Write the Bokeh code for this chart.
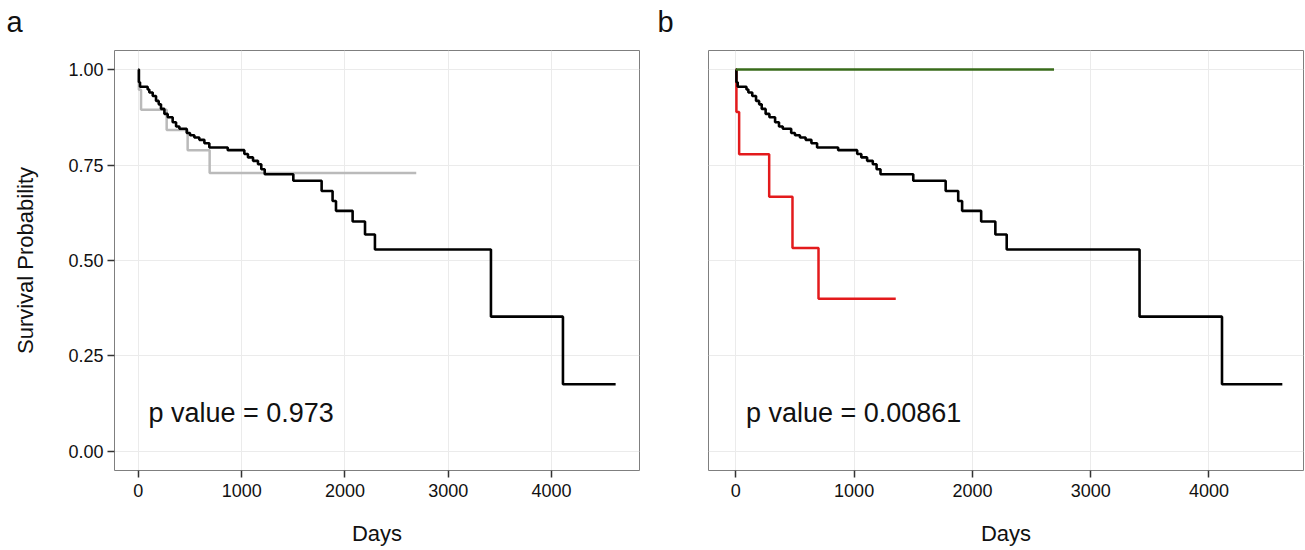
from bokeh.plotting import figure
from bokeh.layouts import row, column
from bokeh.models import Label, FixedTicker, NumeralTickFormatter, Range1d
from bokeh.core.properties import value
from bokeh.embed import file_html
from bokeh.resources import INLINE

# ---- data (days, survival probability) ----
all_days = [0, 5, 16, 90, 106, 139, 171, 197, 219, 252, 284, 332, 365, 397, 468, 500,
            542, 590, 639, 687, 865, 1026, 1061, 1110, 1158, 1190, 1223, 1500, 1774,
            1880, 1913, 2074, 2194, 2290, 3413, 4110, 4620]
all_surv = [1.0, 0.967, 0.955, 0.948, 0.940, 0.931, 0.918, 0.909, 0.897, 0.884, 0.875,
            0.862, 0.851, 0.845, 0.834, 0.828, 0.822, 0.816, 0.807, 0.796, 0.789, 0.779,
            0.770, 0.761, 0.752, 0.739, 0.726, 0.709, 0.682, 0.656, 0.630, 0.602, 0.568,
            0.529, 0.353, 0.176, 0.176]

grey_days = [0, 5, 26, 274, 477, 690, 2690]
grey_surv = [1.0, 0.947, 0.895, 0.842, 0.789, 0.729, 0.729]

red_days = [0, 5, 28, 282, 479, 699, 1352]
red_surv = [1.0, 0.889, 0.778, 0.667, 0.533, 0.400, 0.400]

green_days = [0, 2690]
green_surv = [1.0, 1.0]

x_ticks = [0, 1000, 2000, 3000, 4000]
y_ticks = [0.0, 0.25, 0.5, 0.75, 1.0]

panel_tags = ["a", "b"]
p_text_a = "p value = 0.973"
p_text_b = "p value = 0.00861"

FONT = "Liberation Sans"

# ---- strip carrying the panel tags ----
strip = figure(width=1305, height=49, output_backend="svg", toolbar_location=None,
               x_range=Range1d(0, 1305), y_range=Range1d(49, 0),
               min_border=0, min_border_left=0, min_border_right=0,
               min_border_top=0, min_border_bottom=0)
strip.axis.visible = False
strip.grid.visible = False
strip.outline_line_color = None
strip.text(x=[6, 657], y=[21, 21], text=panel_tags, text_font=value(FONT),
           text_font_size="29px", text_color="#111111", text_baseline="alphabetic",
           text_align="left")


def base_fig(width, x_end, left, right, show_y):
    p = figure(width=width, height=501, output_backend="svg", toolbar_location=None,
               x_range=Range1d(-231, x_end), y_range=Range1d(-0.05, 1.05),
               min_border_left=left, min_border_right=right,
               min_border_top=1, min_border_bottom=80)
    p.background_fill_color = "white"
    p.border_fill_color = "white"
    p.outline_line_color = "#7f7f7f"
    p.outline_line_width = 1
    p.xgrid.grid_line_color = "#ebebeb"
    p.ygrid.grid_line_color = "#ebebeb"
    p.xgrid.ticker = FixedTicker(ticks=x_ticks)
    p.ygrid.ticker = FixedTicker(ticks=y_ticks)
    for ax in [p.xaxis[0], p.yaxis[0]]:
        ax.axis_line_color = None
        ax.major_tick_line_color = "#333333"
        ax.major_tick_line_width = 1.5
        ax.major_tick_out = 7
        ax.major_tick_in = 0
        ax.minor_tick_line_color = None
        ax.major_label_text_font = FONT
        ax.major_label_text_font_size = "18px"
        ax.major_label_text_color = "#111111"
        ax.axis_label_text_font = FONT
        ax.axis_label_text_font_size = "22px"
        ax.axis_label_text_font_style = "normal"
        ax.axis_label_text_color = "#111111"
    p.xaxis.ticker = FixedTicker(ticks=x_ticks)
    p.xaxis.major_label_standoff = 6
    p.xaxis.axis_label = "Days"
    p.xaxis.axis_label_standoff = 21
    p.yaxis.ticker = FixedTicker(ticks=y_ticks)
    p.yaxis.formatter = NumeralTickFormatter(format="0.00")
    p.yaxis.major_label_standoff = 4
    if show_y:
        p.yaxis.axis_label = "Survival Probability"
        p.yaxis.axis_label_standoff = 27
    else:
        p.yaxis.visible = False
    return p


def add_ptext(p, text, x, y):
    p.add_layout(Label(x=x, y=y, text=text, text_font=FONT, text_font_size="27px",
                       text_color="#111111", text_align="left", text_baseline="middle"))


# ---- panel a ----
pa = base_fig(650, 4851, 114, 11, True)
pa.step(grey_days, grey_surv, mode="after", line_color="#bababa", line_width=2.5)
pa.step(all_days, all_surv, mode="after", line_color="black", line_width=2.6)
add_ptext(pa, p_text_a, 97, 0.10)

# ---- panel b ----
pb = base_fig(655, 4799, 58, 2, False)
pb.step(red_days, red_surv, mode="after", line_color="#e31a1c", line_width=2.5)
pb.step(all_days, all_surv, mode="after", line_color="black", line_width=2.6)
pb.step(green_days, green_surv, mode="after", line_color="#386b1a", line_width=2.5)
add_ptext(pb, p_text_b, 85, 0.10)

layout = column(strip, row(pa, pb))
open("out.html", "w").write(file_html(layout, INLINE))
